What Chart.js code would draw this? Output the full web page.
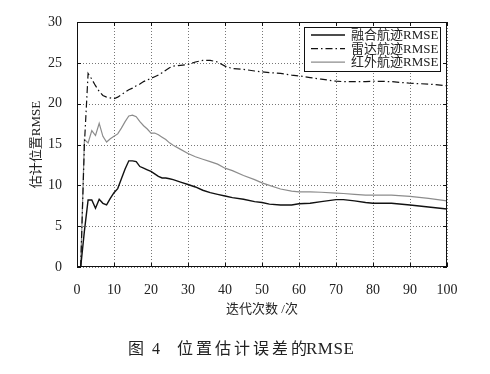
<!DOCTYPE html>
<html>
<head>
<meta charset="utf-8">
<script src="https://cdn.jsdelivr.net/npm/chart.js@4"></script>
<style>
  html, body { margin: 0; padding: 0; background: #fff; }
  #wrap { width: 490px; height: 374px; }
</style>
</head>
<body>
<div id="wrap"><canvas id="rmseChart" width="490" height="374"></canvas></div>
<script>
// iteration numbers (x) shared by all three curves
const iters = [1, 2, 3, 4, 5, 6, 7, 8, 9, 10, 11, 12, 13, 14, 15, 16, 17, 18, 19, 20,
    21, 22, 23, 24, 25, 26, 28, 30, 32, 34, 36, 38, 40, 42, 45, 48, 50, 52, 55, 58,
    60, 63, 66, 70, 72, 75, 78, 80, 85, 90, 95, 100];

const fusedRmse = [0, 4.4, 8.2, 8.2, 7.2, 8.3, 7.8, 7.6, 8.4, 9.1, 9.6, 10.8, 12.0, 13.0, 13.0, 12.9, 12.3, 12.1, 11.9, 11.7,
    11.4, 11.1, 10.9, 10.9, 10.8, 10.7, 10.4, 10.1, 9.8, 9.4, 9.1, 8.9, 8.7, 8.5, 8.3, 8.0, 7.9, 7.7, 7.6, 7.6,
    7.75, 7.8, 8.0, 8.25, 8.25, 8.1, 7.9, 7.8, 7.8, 7.6, 7.35, 7.1];

const radarRmse = [0, 15.0, 23.7, 23.0, 22.2, 21.5, 21.0, 20.8, 20.7, 20.6, 20.8, 21.1, 21.4, 21.7, 21.9, 22.2, 22.4, 22.7, 22.9, 23.1,
    23.3, 23.5, 23.8, 24.1, 24.4, 24.6, 24.7, 24.8, 25.1, 25.3, 25.3, 25.1, 24.6, 24.3, 24.2, 24.0, 23.9, 23.8, 23.7, 23.5,
    23.4, 23.2, 23.0, 22.75, 22.7, 22.7, 22.7, 22.75, 22.7, 22.5, 22.4, 22.2];

const irRmse = [0, 15.6, 15.2, 16.7, 16.1, 17.6, 16.0, 15.3, 15.7, 16.0, 16.3, 17.0, 17.8, 18.5, 18.6, 18.4, 17.8, 17.3, 16.9, 16.4,
    16.4, 16.2, 15.9, 15.6, 15.2, 14.9, 14.4, 13.9, 13.5, 13.2, 12.9, 12.6, 12.1, 11.8, 11.2, 10.7, 10.3, 10.0, 9.55, 9.3,
    9.2, 9.2, 9.15, 9.05, 9.0, 8.9, 8.8, 8.8, 8.8, 8.65, 8.4, 8.1];

const seriesNames = ['融合航迹RMSE', '雷达航迹RMSE', '红外航迹RMSE'];
const xTicks = [0, 10, 20, 30, 40, 50, 60, 70, 80, 90, 100];
const yTicks = [0, 5, 10, 15, 20, 25, 30];

const serif = "'Liberation Serif', 'Noto Sans CJK SC', serif";
Chart.defaults.font.family = serif;
Chart.defaults.color = '#222';

const toPoints = vals => iters.map((x, i) => ({ x: x, y: vals[i] }));

// dotted grid under the lines
const dottedGrid = {
    id: 'dottedGrid',
    beforeDatasetsDraw(chart) {
        const { ctx, chartArea: a } = chart;
        const xs = chart.scales.x, ys = chart.scales.y;
        ctx.save();
        ctx.strokeStyle = '#777';
        ctx.lineWidth = 1;
        ctx.setLineDash([1, 2]);
        ctx.beginPath();
        xTicks.forEach(v => {
            const px = Math.round(xs.getPixelForValue(v)) + 0.5;
            ctx.moveTo(px, a.top); ctx.lineTo(px, a.bottom);
        });
        yTicks.forEach(v => {
            const py = Math.round(ys.getPixelForValue(v)) + 0.5;
            ctx.moveTo(a.left, py); ctx.lineTo(a.right, py);
        });
        ctx.stroke();
        ctx.restore();
    }
};

// frame, inward tick marks, legend box and caption
const decorations = {
    id: 'decorations',
    afterDraw(chart) {
        const { ctx, chartArea: a } = chart;
        const xs = chart.scales.x, ys = chart.scales.y;
        ctx.save();
        ctx.strokeStyle = '#111';
        ctx.lineWidth = 1;
        ctx.setLineDash([]);
        ctx.strokeRect(a.left + 0.5, a.top + 0.5, a.right - a.left - 1, a.bottom - a.top - 1);

        ctx.beginPath();
        xTicks.forEach(v => {
            const px = Math.round(xs.getPixelForValue(v)) + 0.5;
            ctx.moveTo(px, a.bottom); ctx.lineTo(px, a.bottom - 4);
            ctx.moveTo(px, a.top); ctx.lineTo(px, a.top + 4);
        });
        yTicks.forEach(v => {
            const py = Math.round(ys.getPixelForValue(v)) + 0.5;
            ctx.moveTo(a.left, py); ctx.lineTo(a.left + 4, py);
            ctx.moveTo(a.right, py); ctx.lineTo(a.right - 4, py);
        });
        ctx.stroke();

        // legend
        const bx = 304, by = 27, bw = 136, bh = 44;
        ctx.fillStyle = '#fff';
        ctx.fillRect(bx, by, bw, bh);
        ctx.strokeRect(bx + 0.5, by + 0.5, bw, bh);
        ctx.font = "13px " + serif;
        ctx.textBaseline = 'middle';
        chart.data.datasets.forEach((ds, i) => {
            const ly = by + 8 + i * 13.6;
            ctx.strokeStyle = ds.borderColor;
            ctx.lineWidth = ds.borderWidth;
            ctx.setLineDash(ds.borderDash || []);
            ctx.beginPath();
            ctx.moveTo(311, ly); ctx.lineTo(345, ly);
            ctx.stroke();
            ctx.fillStyle = '#222';
            ctx.fillText(ds.label, 351, ly + 0.5);
        });

        // caption
        ctx.setLineDash([]);
        ctx.fillStyle = '#222';
        ctx.textAlign = 'left';
        ctx.font = "16px " + serif;
        ctx.letterSpacing = '2px';
        ctx.fillText('图 4', 128, 350);
        ctx.letterSpacing = '3px';
        ctx.fillText('位置估计误差的', 177, 350);
        ctx.letterSpacing = '0.5px';
        ctx.font = "17px " + serif;
        ctx.fillText('RMSE', 306, 350);
        ctx.restore();
    }
};

new Chart(document.getElementById('rmseChart'), {
    type: 'line',
    data: {
        datasets: [
            {
                label: seriesNames[0],
                data: toPoints(fusedRmse),
                borderColor: '#111',
                borderWidth: 1.4
            },
            {
                label: seriesNames[1],
                data: toPoints(radarRmse),
                borderColor: '#111',
                borderWidth: 1.2,
                borderDash: [7, 3, 1.5, 3]
            },
            {
                label: seriesNames[2],
                data: toPoints(irRmse),
                borderColor: '#8c8c8c',
                borderWidth: 1.2
            }
        ]
    },
    options: {
        responsive: false,
        animation: false,
        elements: {
            point: { radius: 0 },
            line: { tension: 0, fill: false }
        },
        layout: { padding: { top: 22, right: 43, bottom: 57, left: 0 } },
        plugins: {
            legend: { display: false },
            tooltip: { enabled: false }
        },
        scales: {
            x: {
                type: 'linear',
                min: 0,
                max: 100,
                afterBuildTicks: s => { s.ticks = xTicks.map(v => ({ value: v })); },
                afterFit: s => { s.height = 50; },
                grid: { display: false },
                border: { display: false },
                ticks: { padding: 7, font: { size: 14 }, color: '#222' },
                title: {
                    display: true,
                    text: '迭代次数 /次',
                    font: { size: 13 },
                    padding: { top: 8, bottom: 0 }
                }
            },
            y: {
                min: 0,
                max: 30,
                afterBuildTicks: s => { s.ticks = yTicks.map(v => ({ value: v })); },
                afterFit: s => { s.width = 77; },
                grid: { display: false },
                border: { display: false },
                ticks: { padding: 7, font: { size: 14 }, color: '#222' },
                title: {
                    display: true,
                    text: '估计位置RMSE',
                    font: { size: 13 },
                    padding: { top: 29, bottom: 0 }
                }
            }
        }
    },
    plugins: [dottedGrid, decorations]
});
</script>
</body>
</html>
